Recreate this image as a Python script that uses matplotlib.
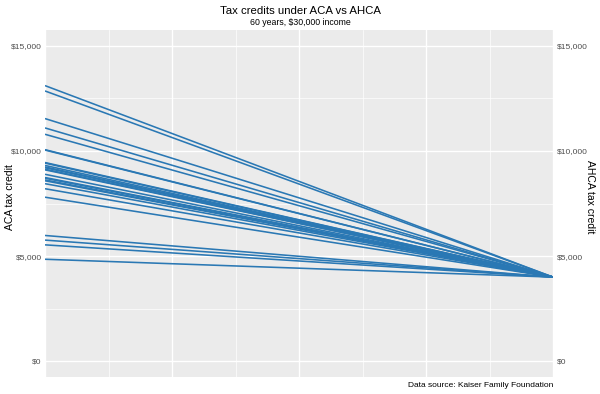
import matplotlib.pyplot as plt
from matplotlib.ticker import FuncFormatter, MultipleLocator

plt.rcParams['font.family'] = ['Liberation Sans', 'DejaVu Sans']

# ACA tax credit by area, AHCA credit is flat
aca_credit = [13105, 12851, 11538, 11093, 10791, 10060, 10040, 9449, 9420,
              9310, 9238, 9200, 9130, 9100, 8888, 8736, 8700, 8620, 8580,
              8443, 8203, 7800, 5980, 5760, 5534, 4849]
ahca_credit = 4000

fig = plt.figure(figsize=(6, 3.94), dpi=100)
ax = fig.add_axes([0.075, 0.0431, 0.8467, 0.8808])
ax.set_facecolor('#EBEBEB')

for v in aca_credit:
    ax.plot([0, 1], [v, ahca_credit], color='#2a78b4', lw=1.15,
            solid_capstyle='butt')

ax.set_xlim(0, 1)
ax.set_ylim(-750, 15750)
ax.xaxis.set_major_locator(MultipleLocator(0.25))
ax.xaxis.set_minor_locator(MultipleLocator(0.125))
ax.yaxis.set_major_locator(MultipleLocator(5000))
ax.yaxis.set_minor_locator(MultipleLocator(2500))
ax.grid(which='major', color='white', lw=1.0)
ax.grid(which='minor', color='white', lw=0.5)
ax.set_axisbelow(True)
for s in ax.spines.values():
    s.set_visible(False)
ax.tick_params(which='both', length=0)
ax.tick_params(axis='x', which='both', labelbottom=False)

fmt = FuncFormatter(lambda v, p: '${:,.0f}'.format(v))
ax.yaxis.set_major_formatter(fmt)
ax.tick_params(axis='y', labelsize=6, labelcolor='#4D4D4D', pad=2.5)

# secondary axis on the right with the same scale
ax2 = ax.twinx()
ax2.set_ylim(ax.get_ylim())
ax2.yaxis.set_major_locator(MultipleLocator(5000))
ax2.yaxis.set_major_formatter(fmt)
ax2.tick_params(axis='y', length=0, labelsize=6, labelcolor='#4D4D4D', pad=2.5)
for s in ax2.spines.values():
    s.set_visible(False)

fig.text(0.017, 0.5, 'ACA tax credit', rotation=90, ha='center', va='center',
         fontsize=7.5)
fig.text(0.983, 0.5, 'AHCA tax credit', rotation=270, ha='center', va='center',
         fontsize=7.5)

fig.text(0.5, 0.972, 'Tax credits under ACA vs AHCA', ha='center', va='center',
         fontsize=8.2)
fig.text(0.5, 0.943, '60 years, $30,000 income', ha='center', va='center',
         fontsize=6.3)
fig.text(0.9217, 0.022, 'Data source: Kaiser Family Foundation', ha='right',
         va='center', fontsize=6)

fig.savefig('out.png', dpi=100)
